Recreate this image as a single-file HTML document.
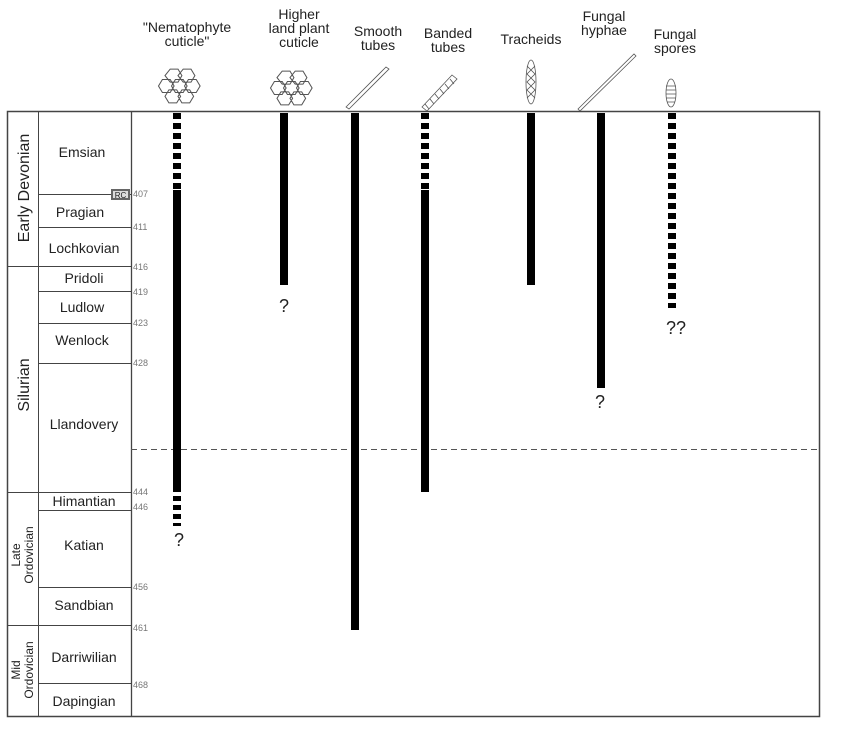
<!DOCTYPE html>
<html><head><style>body{margin:0;background:#fff}svg{display:block}text{font-family:"Liberation Sans",sans-serif;fill:#222}</style></head>
<body>
<svg width="847" height="740" viewBox="0 0 847 740">
<rect width="847" height="740" fill="#fff"/>
<g font-size="14" text-anchor="middle">
<text x="187" y="32">"Nematophyte</text><text x="187" y="46">cuticle"</text>
<text x="299" y="19">Higher</text><text x="299" y="33">land plant</text><text x="299" y="47">cuticle</text>
<text x="378" y="36">Smooth</text><text x="378" y="50">tubes</text>
<text x="448" y="38">Banded</text><text x="448" y="52">tubes</text>
<text x="531" y="44">Tracheids</text>
<text x="604" y="21">Fungal</text><text x="604" y="35">hyphae</text>
<text x="675" y="39">Fungal</text><text x="675" y="53">spores</text>
</g>
<g fill="none" stroke="#555" stroke-width="0.8">
<g transform="translate(178,86) scale(1.3)">
<path d="M-10,-8 l4,-5 h6 l3,5 -3,5 h-6z M0,-8 l4,-5 h6 l3,5 -3,5 h-6z M-5,0 l3,-5 h6 l3,5 -3,5 h-6z M5,0 l3,-5 h6 l3,5 -3,5 h-6z M-15,0 l3,-5 h6 l3,5 -3,5 h-6z M-10,8 l3,-5 h6 l3,5 -3,5 h-6z M0,8 l3,-5 h6 l3,5 -3,5 h-6z"/></g>
<g transform="translate(290,88) scale(1.3)">
<path d="M-10,-8 l4,-5 h6 l3,5 -3,5 h-6z M0,-8 l4,-5 h6 l3,5 -3,5 h-6z M-5,0 l3,-5 h6 l3,5 -3,5 h-6z M5,0 l3,-5 h6 l3,5 -3,5 h-6z M-15,0 l3,-5 h6 l3,5 -3,5 h-6z M-10,8 l3,-5 h6 l3,5 -3,5 h-6z M0,8 l3,-5 h6 l3,5 -3,5 h-6z"/></g>
<path d="M346,107 l40,-40 l3,2 l-40,40z"/>
<path d="M422,107 l30,-32 l5,4 l-30,32z M425,104 l4,5 M430,99 l4,5 M435,94 l4,5 M440,89 l4,5 M445,84 l4,5 M450,79 l4,5"/>
<ellipse cx="531" cy="82" rx="5" ry="22"/>
<path d="M527,66 l8,8 -8,8 8,8 -8,8 M535,66 l-8,8 8,8 -8,8 8,8"/>
<path d="M578,109 l56,-55 l2,2 l-56,55z"/>
<ellipse cx="671" cy="93" rx="5" ry="14"/>
<path d="M666,86 h10 M666,90 h10 M666,94 h10 M666,98 h10 M667,102 h8"/>
</g>
<g stroke="#444" fill="none">
<rect x="7.5" y="111.5" width="812" height="605" stroke-width="1.5"/>
<line x1="38.5" y1="111" x2="38.5" y2="716"/>
<line x1="131.5" y1="111" x2="131.5" y2="716" stroke-width="1.3"/>
<path d="M38,194.5H131 M38,227.5H131 M7,266.5H131 M38,291.5H131 M38,323.5H131 M38,363.5H131 M7,492.5H131 M38,510.5H131 M38,587.5H131 M7,625.5H131 M38,683.5H131"/>
</g>
<rect x="111" y="189" width="19" height="11" fill="#666"/><rect x="113" y="191" width="15" height="7" fill="#ddd"/>
<text x="120.5" y="198" font-size="8" text-anchor="middle">RC</text>
<g font-size="9">
<text x="133" y="197" style="fill:#777">407</text><text x="133" y="230" style="fill:#777">411</text><text x="133" y="270" style="fill:#777">416</text><text x="133" y="295" style="fill:#777">419</text><text x="133" y="326" style="fill:#777">423</text><text x="133" y="366" style="fill:#777">428</text><text x="133" y="495" style="fill:#777">444</text><text x="133" y="510" style="fill:#777">446</text><text x="133" y="590" style="fill:#777">456</text><text x="133" y="631" style="fill:#777">461</text><text x="133" y="688" style="fill:#777">468</text>
</g>
<g font-size="14" text-anchor="middle">
<text x="82" y="157">Emsian</text><text x="80" y="217">Pragian</text><text x="84" y="253">Lochkovian</text>
<text x="84" y="283">Pridoli</text><text x="82" y="312">Ludlow</text><text x="82" y="345">Wenlock</text>
<text x="84" y="429">Llandovery</text><text x="84" y="506">Himantian</text><text x="84" y="550">Katian</text>
<text x="84" y="610">Sandbian</text><text x="84" y="662">Darriwilian</text><text x="84" y="706">Dapingian</text>
</g>
<g font-size="16" text-anchor="middle">
<text transform="translate(29,188) rotate(-90)">Early Devonian</text>
<text transform="translate(29,385) rotate(-90)">Silurian</text>
</g>
<g font-size="12" text-anchor="middle">
<text transform="translate(20,555) rotate(-90)">Late</text><text transform="translate(33,555) rotate(-90)">Ordovician</text>
<text transform="translate(20,670) rotate(-90)">Mid</text><text transform="translate(33,670) rotate(-90)">Ordovician</text>
</g>
<line x1="131" y1="449.5" x2="820" y2="449.5" stroke="#555" stroke-dasharray="6,4"/>
<g stroke="#000" stroke-width="8" fill="none">
<line x1="177" y1="113" x2="177" y2="190" stroke-dasharray="6,4"/>
<line x1="177" y1="190" x2="177" y2="492"/>
<line x1="177" y1="496" x2="177" y2="526" stroke-dasharray="5,4"/>
<line x1="284" y1="113" x2="284" y2="285"/>
<line x1="355" y1="113" x2="355" y2="630"/>
<line x1="425" y1="113" x2="425" y2="190" stroke-dasharray="6,4"/>
<line x1="425" y1="190" x2="425" y2="492"/>
<line x1="531" y1="113" x2="531" y2="285"/>
<line x1="601" y1="113" x2="601" y2="388"/>
<line x1="672" y1="113" x2="672" y2="308" stroke-dasharray="6,4"/>
</g>
<g font-size="18" text-anchor="middle">
<text x="179" y="546">?</text><text x="284" y="312">?</text><text x="600" y="408">?</text><text x="676" y="334">??</text>
</g>
</svg>
</body></html>
